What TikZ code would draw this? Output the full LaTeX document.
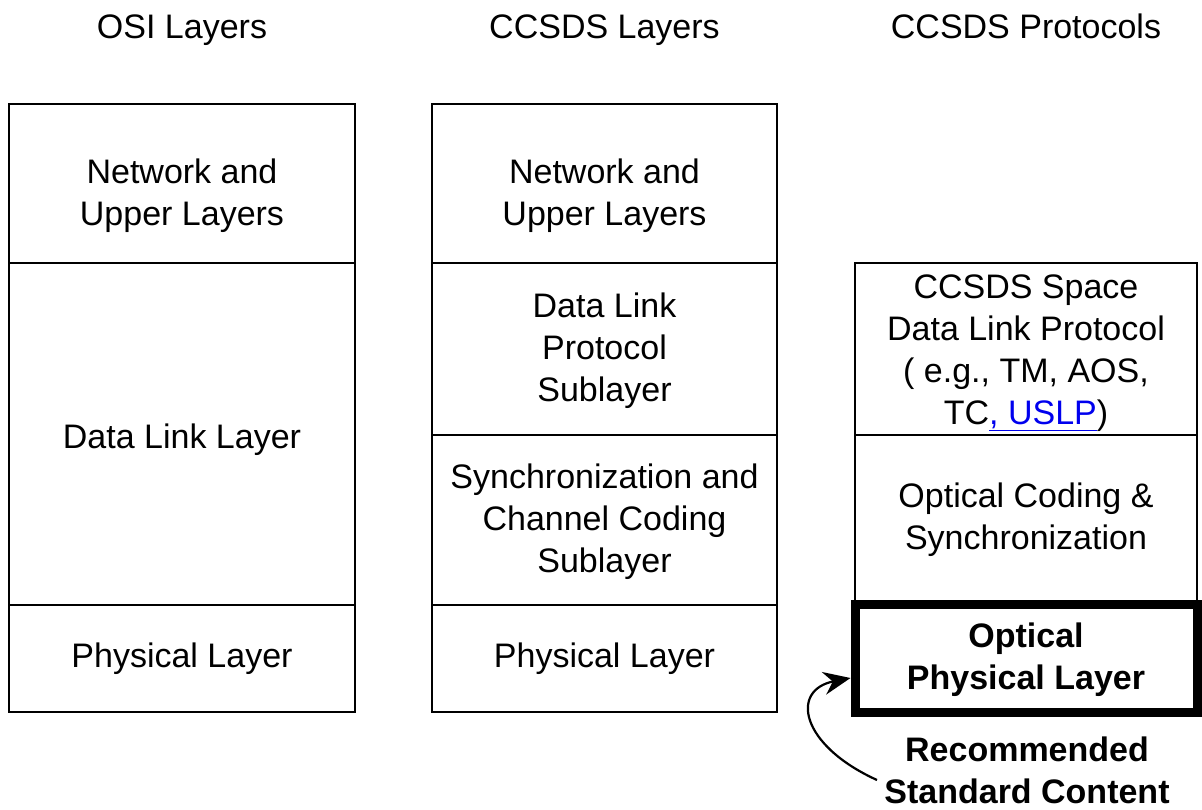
\documentclass[tikz,border=0pt]{standalone}
\usepackage{fontspec}
\setmainfont{Liberation Sans}
\usetikzlibrary{arrows.meta}
\definecolor{linkblue}{HTML}{0000EE}
\begin{document}
\begin{tikzpicture}[x=1pt,y=-1pt,
  txt/.style={font=\fontsize{34}{42}\selectfont, align=center, inner sep=0pt},
  boldtxt/.style={txt, font=\fontsize{34}{42}\selectfont\bfseries},
  head/.style={txt, anchor=base},
  cell/.style={draw, line width=1.5pt, inner sep=0pt, outer sep=0pt},
  frame/.style={draw, line width=2.2pt},
  thickcell/.style={draw, line width=9pt, inner sep=0pt, outer sep=4.5pt},
  pointer/.style={draw, line width=2.2pt, -{Stealth[length=27pt,width=23pt,inset=9pt]}}]
\useasboundingbox (0,0) rectangle (1202,809);

% column headings
\node[head] (hosi) at (182,38) {OSI Layers};
\node[head] (hlay) at (604.5,38) {CCSDS Layers};
\node[head] (hpro) at (1026,38) {CCSDS Protocols};

% OSI column
\node[cell, minimum width=346pt, minimum height=159pt] (osinet) at (182,183.5) {};
\node[cell, minimum width=346pt, minimum height=342pt] (osidl) at (182,434) {};
\node[cell, minimum width=346pt, minimum height=107pt] (osiphy) at (182,658.5) {};
\draw[frame] (osinet.north west) rectangle (osiphy.south east);
\node[txt] (tosinet) at ([yshift=-12pt]osinet.center) {Network and\\Upper Layers};
\node[txt] (tosidl) at ([yshift=-6pt]osidl.center) {Data Link Layer};
\node[txt] (tosiphy) at (osiphy.center) {Physical Layer};

% CCSDS layers column
\node[cell, minimum width=345pt, minimum height=159pt] (laynet) at (604.5,183.5) {};
\node[cell, minimum width=345pt, minimum height=172pt] (laydlp) at (604.5,349) {};
\node[cell, minimum width=345pt, minimum height=170pt] (laysync) at (604.5,520) {};
\node[cell, minimum width=345pt, minimum height=107pt] (layphy) at (604.5,658.5) {};
\draw[frame] (laynet.north west) rectangle (layphy.south east);
\node[txt] (tlaynet) at ([yshift=-12pt]laynet.center) {Network and\\Upper Layers};
\node[txt] (tlaydlp) at ([yshift=-2pt]laydlp.center) {Data Link\\Protocol\\Sublayer};
\node[txt] (tlaysync) at ([yshift=-1.5pt]laysync.center) {Synchronization and\\Channel Coding\\Sublayer};
\node[txt] (tlayphy) at (layphy.center) {Physical Layer};

% CCSDS protocols column
\node[cell, minimum width=342pt, minimum height=172pt] (prosdl) at (1026,349) {};
\node[cell, minimum width=342pt, minimum height=169pt] (prosync) at (1026,519.5) {};
\draw[frame] (prosdl.north west) rectangle (prosync.south east);
\node[thickcell, minimum width=342pt, minimum height=108pt] (prophy) at (1026,658) {};
\node[txt] (tprosdl) at ([yshift=-4pt]prosdl.center)
  {CCSDS Space\\Data Link Protocol\\( e.g., TM, AOS,\\TC\textcolor{linkblue}{\underline{, USLP}})};
\node[txt] (tprosync) at (prosync.center) {Optical Coding \&\\Synchronization};
\node[boldtxt] (tprophy) at ([yshift=-1.5pt]prophy.center) {Optical\\Physical Layer};

% recommended standard content callout
\node[boldtxt] (rec) at (1027,770) {Recommended\\Standard Content};
\coordinate (recfrom) at (877,780);
\coordinate (recto) at ([yshift=-20pt]prophy.west);
\draw[pointer] (recfrom) .. controls (800,745) and (790,690) .. (recto);
\end{tikzpicture}
\end{document}
